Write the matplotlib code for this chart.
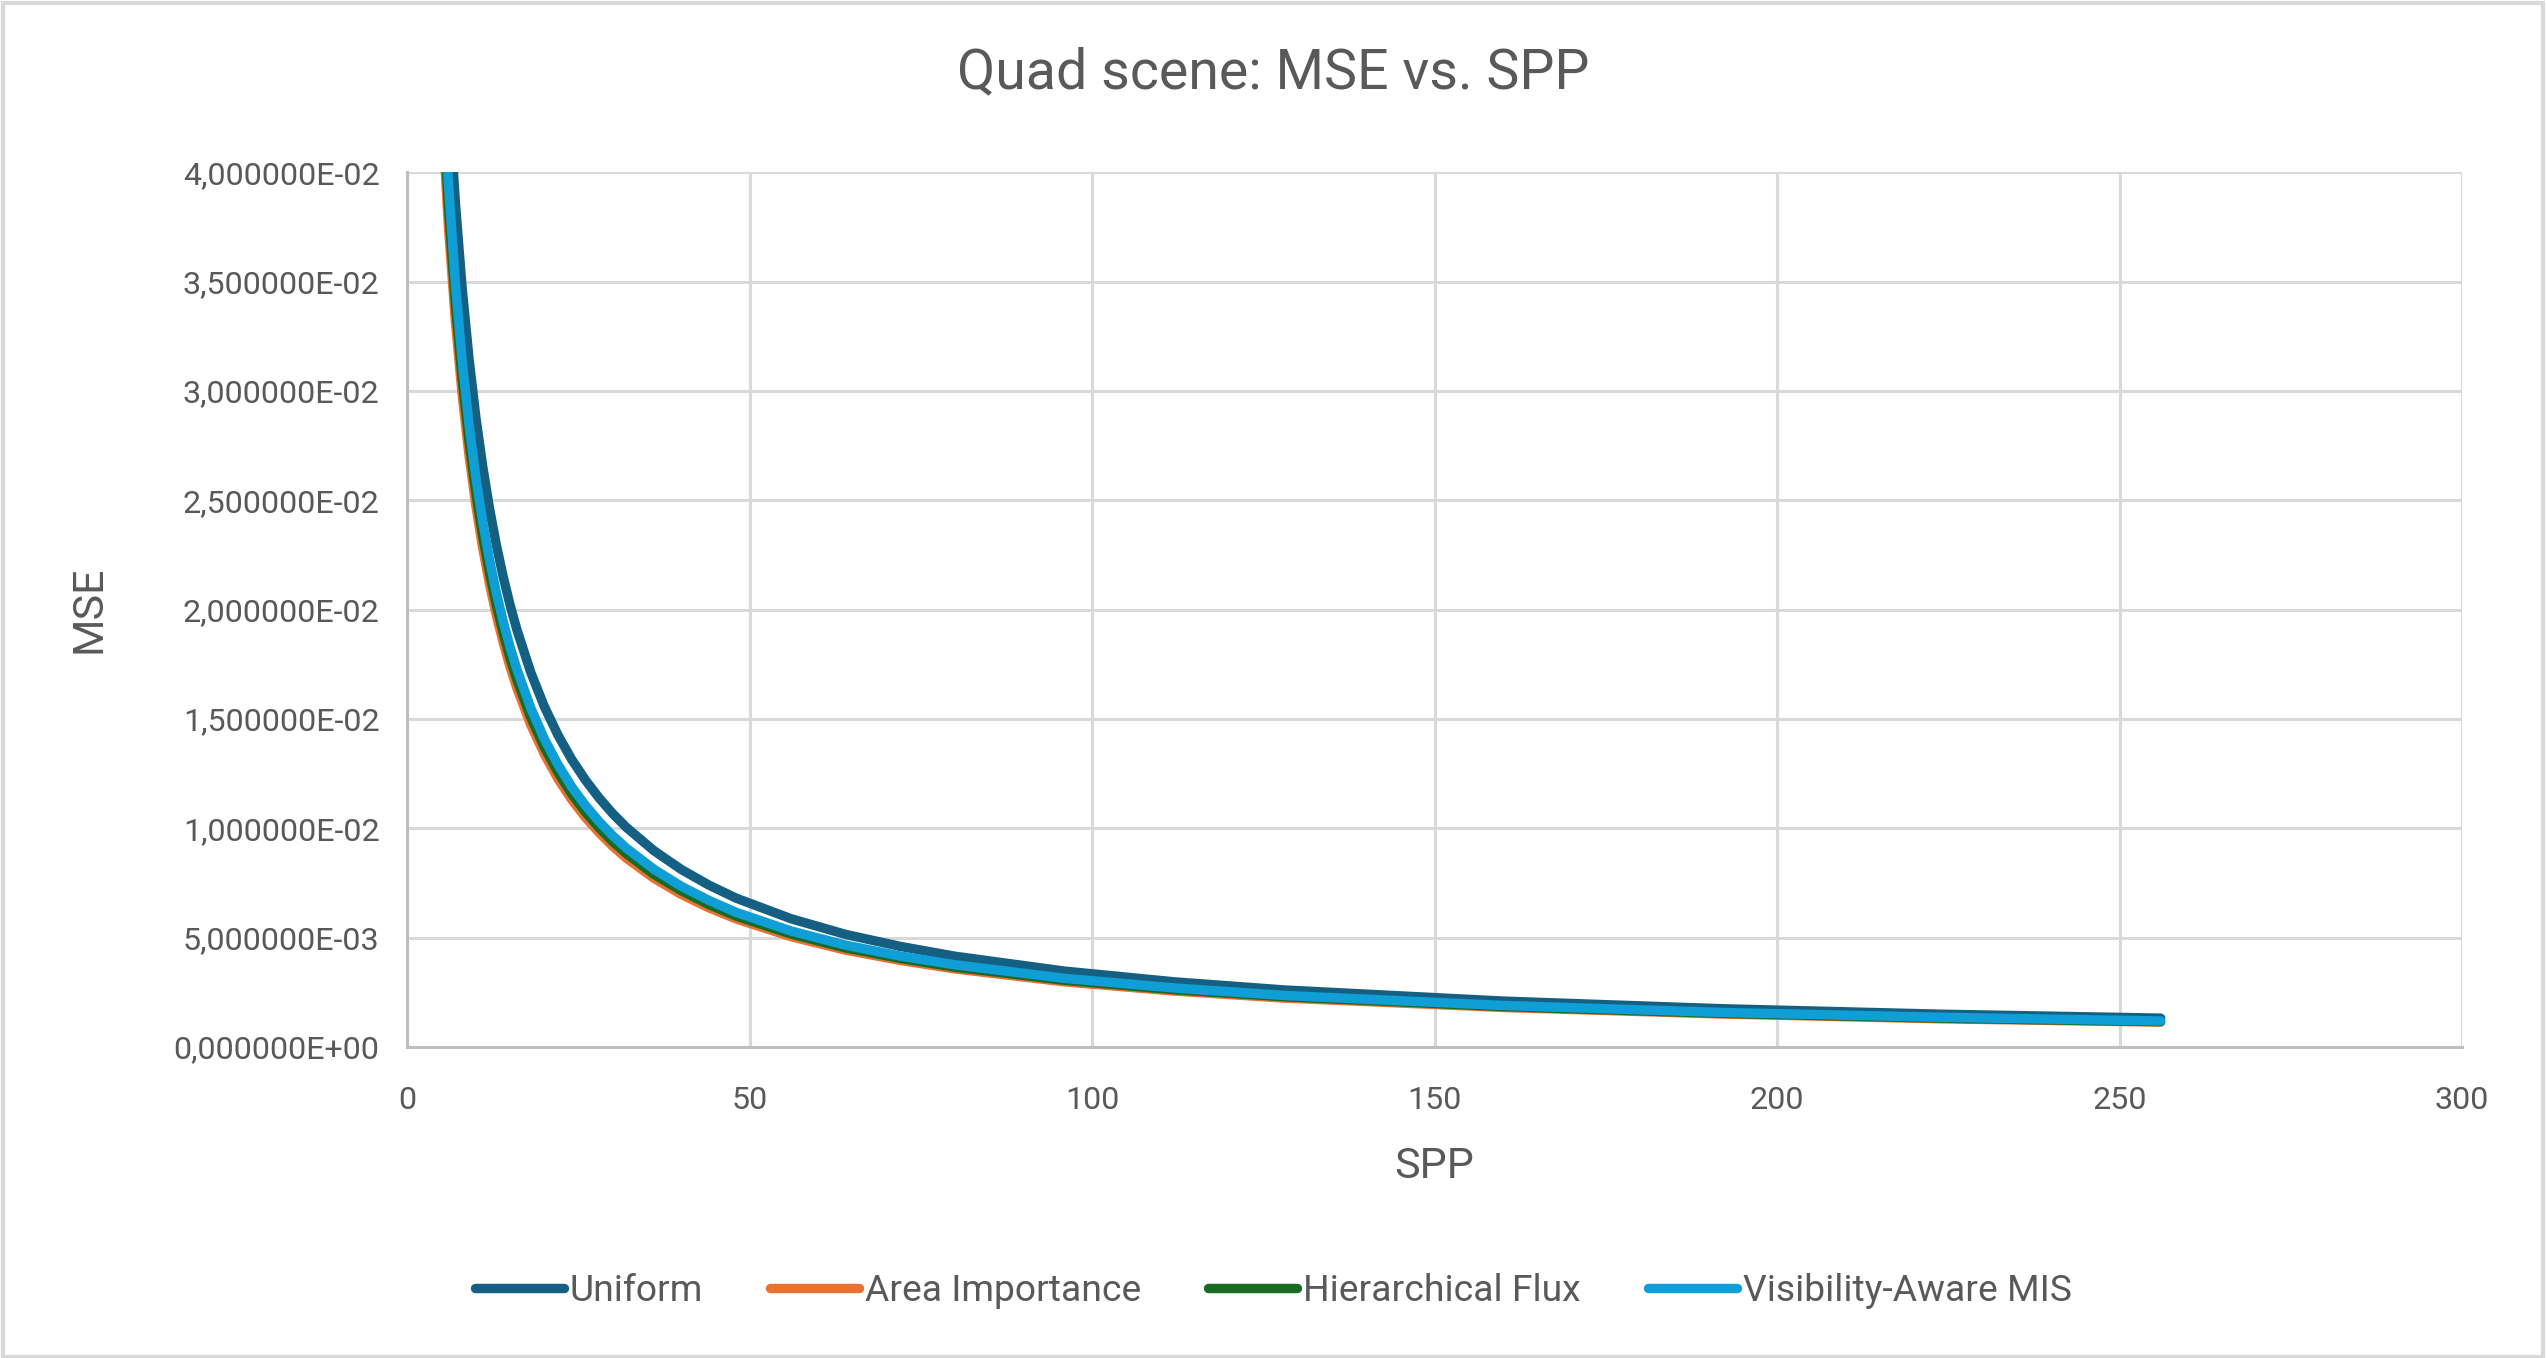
import matplotlib
matplotlib.use('Agg')
import matplotlib.pyplot as plt
from matplotlib.patches import Rectangle
from matplotlib.ticker import FuncFormatter, MultipleLocator

plt.rcParams['font.family'] = ['Roboto', 'DejaVu Sans']

# samples per pixel and the MSE
spp = [4, 5, 6, 7, 8, 9, 10, 11, 12, 13, 14, 15, 16, 18, 20, 22, 24, 26, 28, 30,
       32, 36, 40, 44, 48, 56, 64, 72, 80, 96, 112, 128, 160, 192, 224, 256]
mse_uniform = [0.05875, 0.05007, 0.04363, 0.03865, 0.03470, 0.03148, 0.02880,
               0.02655, 0.02462, 0.02295, 0.02150, 0.02021, 0.01908, 0.01715,
               0.01557, 0.01426, 0.01315, 0.01221, 0.01139, 0.01067, 0.01004,
               0.00898, 0.00812, 0.00741, 0.00681, 0.00587, 0.00515, 0.00460,
               0.00415, 0.00347, 0.00298, 0.00261, 0.00210, 0.00175, 0.00150,
               0.00132]
mse_area = [0.05053, 0.04306, 0.03752, 0.03324, 0.02984, 0.02707, 0.02477,
            0.02283, 0.02117, 0.01974, 0.01849, 0.01738, 0.01641, 0.01475,
            0.01339, 0.01226, 0.01131, 0.01050, 0.00980, 0.00918, 0.00863,
            0.00772, 0.00698, 0.00637, 0.00586, 0.00505, 0.00443, 0.00396,
            0.00357, 0.00298, 0.00256, 0.00224, 0.00181, 0.00151, 0.00129,
            0.00114]
mse_flux = [0.05170, 0.04406, 0.03839, 0.03401, 0.03054, 0.02770, 0.02534,
            0.02336, 0.02167, 0.02020, 0.01892, 0.01778, 0.01679, 0.01509,
            0.01370, 0.01255, 0.01157, 0.01074, 0.01002, 0.00939, 0.00884,
            0.00790, 0.00715, 0.00652, 0.00599, 0.00517, 0.00453, 0.00405,
            0.00365, 0.00305, 0.00262, 0.00230, 0.00185, 0.00154, 0.00132,
            0.00116]
mse_mis = [0.05317, 0.04531, 0.03949, 0.03498, 0.03140, 0.02849, 0.02606,
           0.02403, 0.02228, 0.02077, 0.01946, 0.01829, 0.01727, 0.01552,
           0.01409, 0.01291, 0.01190, 0.01105, 0.01031, 0.00966, 0.00909,
           0.00813, 0.00735, 0.00671, 0.00616, 0.00531, 0.00466, 0.00416,
           0.00376, 0.00314, 0.00270, 0.00236, 0.00190, 0.00158, 0.00136,
           0.00119]

series = [
    ('Uniform', mse_uniform, '#156082'),
    ('Area Importance', mse_area, '#E97132'),
    ('Hierarchical Flux', mse_flux, '#196B24'),
    ('Visibility-Aware MIS', mse_mis, '#0F9ED5'),
]

text_color = '#595959'
grid_color = '#D9D9D9'

fig = plt.figure(figsize=(12.73, 6.79), dpi=200)
ax = fig.add_axes([0.160, 0.229, 0.807, 0.644])

for name, values, color in series:
    ax.plot(spp, values, color=color, lw=3.4, label=name,
            solid_capstyle='round', solid_joinstyle='round')

ax.set_xlim(0, 300)
ax.set_ylim(0, 0.04)
ax.xaxis.set_major_locator(MultipleLocator(50))
ax.yaxis.set_major_locator(MultipleLocator(0.005))
ax.yaxis.set_major_formatter(FuncFormatter(lambda v, p: f'{v:.6E}'.replace('.', ',')))

ax.grid(True, color=grid_color, lw=1.1)
ax.set_axisbelow(True)
for side in ['top', 'right']:
    ax.spines[side].set_visible(False)
for side in ['left', 'bottom']:
    ax.spines[side].set_color('#BFBFBF')
    ax.spines[side].set_linewidth(1.1)

ax.tick_params(axis='both', length=0, labelsize=11.6, labelcolor=text_color)
ax.tick_params(axis='x', pad=14)
ax.tick_params(axis='y', pad=10)

fig.text(0.5, 0.946, 'Quad scene: MSE vs. SPP', ha='center', va='center',
         fontsize=20, color=text_color)
fig.text(0.5635, 0.141, 'SPP', ha='center', va='center', fontsize=15.5, color=text_color)
fig.text(0.035, 0.551, 'MSE', ha='center', va='center', rotation=90,
         fontsize=15.5, color=text_color)

leg = fig.legend(loc='center', bbox_to_anchor=(0.5, 0.049), ncol=4, frameon=False,
                 fontsize=13.4, handlelength=2.4, handletextpad=0.15,
                 columnspacing=1.8)
for t in leg.get_texts():
    t.set_color(text_color)

fig.patches.append(Rectangle((0.001, 0.001), 0.998, 0.997, transform=fig.transFigure,
                             fill=False, edgecolor=grid_color, lw=1.5))

fig.savefig('out.png', dpi=200, facecolor='white')
